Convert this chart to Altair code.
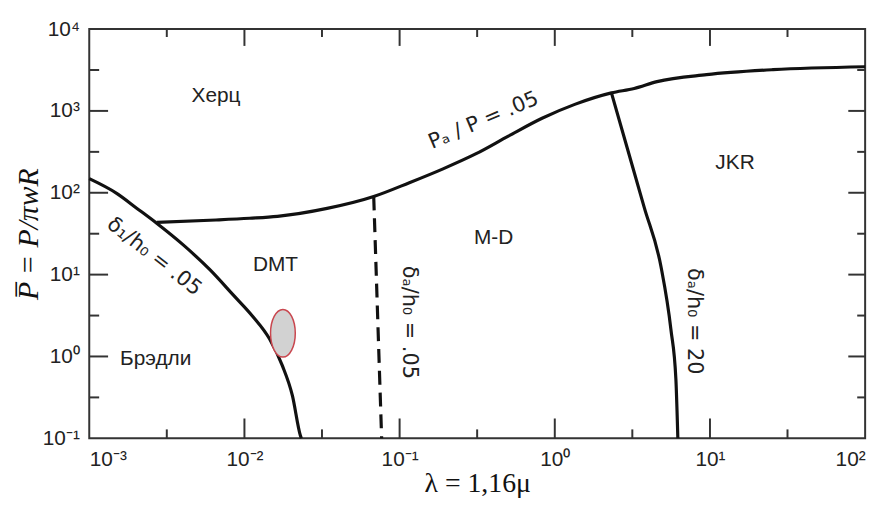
import altair as alt
import pandas as pd

W, H = 783, 413
X_DOMAIN = [1e-3, 1e2]
Y_DOMAIN = [1e-1, 1e4]

# ---- axis ticks / labels ----
x_major = [1e-2, 1e-1, 1e0, 1e1]
x_minor = [3.16e-3, 3.16e-2, 3.16e-1, 3.16, 31.6]
y_major = [1, 10, 100, 1000]
y_minor = [0.316, 3.16, 31.6, 316, 3160]
x_tick_values = [1e-3, 1e-2, 1e-1, 1e0, 1e1, 1e2]
x_tick_labels = ["10⁻³", "10⁻²", "10⁻¹", "10⁰", "10¹", "10²"]
y_tick_values = [1e-1, 1e0, 1e1, 1e2, 1e3, 1e4]
y_tick_labels = ["10⁻¹", "10⁰", "10¹", "10²", "10³", "10⁴"]

# ---- curves ----
c1_x = [0.001, 0.00151, 0.00203, 0.00272, 0.00405, 0.00601, 0.00843, 0.01132, 0.01453, 0.01758, 0.02038, 0.02291, 0.02327]
c1_y = [148.6, 97.7, 64.4, 42.4, 22.9, 11.4, 5.69, 3.08, 1.63, 0.766, 0.332, 0.109, 0.1]

c2_x = [0.00272, 0.00656, 0.0108, 0.01633, 0.0341, 0.0681, 0.1156, 0.1905, 0.309, 0.502, 0.828, 1.345, 2.318, 3.25, 4.56, 9.51, 25.5, 100]
c2_y = [43.5, 46.5, 48.8, 51.5, 64.4, 90, 132.7, 196, 298, 492, 813, 1202, 1660, 1879, 2281, 2773, 3191, 3467]

c3_x = [0.0681, 0.0766]
c3_y = [90, 0.1]

c4_x = [2.318, 2.93, 3.77, 4.84, 5.60, 6.03, 6.21]
c4_y = [1660, 352, 66.2, 12.4, 2.15, 0.532, 0.1]

# ---- region labels ----
reg_text = ["Херц", "JKR", "M-D", "DMT", "Брэдли"]
reg_x = [0.00656, 14.5, 0.403, 0.01585, 0.00268]
reg_y = [1503, 232, 27.9, 13.2, 0.931]

# ---- curve labels ----
cl_text = ["δ₁/h₀ = .05", "Pₐ / P = .05", "δₐ/h₀ = .05", "δₐ/h₀ = 20"]
cl_x = [0.00262, 0.348, 0.1156, 7.85]
cl_y = [16.5, 760, 2.61, 2.69]
cl_angle = [38, 337, 90, 90]

# ---- marked region (ellipse) ----
ell_x = [0.0177]
ell_y = [1.92]

xs = alt.Scale(type="log", domain=X_DOMAIN, nice=False)
ys = alt.Scale(type="log", domain=Y_DOMAIN, nice=False)

def arr_expr(labels):
    return "[" + ",".join("'" + s + "'" for s in labels) + "]"

x_label_expr = arr_expr(x_tick_labels) + "[round(log(datum.value)/LN10)+3]"
y_label_expr = arr_expr(y_tick_labels) + "[round(log(datum.value)/LN10)+1]"

x_axis = alt.Axis(values=x_tick_values, labelExpr=x_label_expr, ticks=False, tickSize=0,
                  domain=False, grid=False, labelFont="Liberation Sans", labelFontSize=21,
                  labelColor="#222", labelPadding=10,
                  title="λ = 1,16μ", titleFont="Liberation Serif", titleFontSize=28,
                  titleFontWeight="normal", titleColor="#111", titleX=W / 2, titleY=54,
                  titleBaseline="alphabetic", titleAlign="center")
y_axis = alt.Axis(values=y_tick_values, labelExpr=y_label_expr, ticks=False, tickSize=0,
                  domain=False, grid=False, labelFont="Liberation Sans", labelFontSize=21,
                  labelColor="#222", labelPadding=10,
                  title="P̅ = P/πwR", titleFont="Liberation Serif", titleFontSize=30,
                  titleFontStyle="italic", titleFontWeight="normal", titleColor="#111",
                  titleX=-61, titleY=H / 2, titleAngle=270, titleBaseline="middle",
                  titleAlign="center")

def curve_df(xv, yv):
    return pd.DataFrame({"x": xv, "y": yv, "o": list(range(len(xv)))})

def line_layer(xv, yv, dash=None, interp="monotone", color="#111", width=3.2):
    kw = dict(color=color, strokeWidth=width, interpolate=interp, strokeCap="butt")
    if dash:
        kw["strokeDash"] = dash
    return alt.Chart(curve_df(xv, yv)).mark_line(**kw).encode(
        x=alt.X("x:Q", scale=xs, axis=x_axis),
        y=alt.Y("y:Q", scale=ys, axis=y_axis),
        order="o:Q",
    )

layers = [
    line_layer(c1_x, c1_y),
    line_layer(c2_x, c2_y),
    line_layer(c3_x, c3_y, dash=[14, 8], interp="linear"),
    line_layer(c4_x, c4_y),
]

# inward tick marks: one short two-point segment per tick; the tick length
# in px is converted through the log scales (decades per pixel)
DEC_X = 5.0 / W
DEC_Y = 5.0 / H

def tick_layers(vals, length, side):
    out = []
    for v in vals:
        if side == "bottom":
            xv, yv = [v, v], [Y_DOMAIN[0], Y_DOMAIN[0] * 10 ** (length * DEC_Y)]
        elif side == "top":
            xv, yv = [v, v], [Y_DOMAIN[1] / 10 ** (length * DEC_Y), Y_DOMAIN[1]]
        elif side == "left":
            xv, yv = [X_DOMAIN[0], X_DOMAIN[0] * 10 ** (length * DEC_X)], [v, v]
        else:
            xv, yv = [X_DOMAIN[1] / 10 ** (length * DEC_X), X_DOMAIN[1]], [v, v]
        out.append(line_layer(xv, yv, interp="linear", color="#333", width=2))
    return out

layers += tick_layers(x_major, 20, "bottom")
layers += tick_layers(x_minor, 9, "bottom")
layers += tick_layers(x_major, 17, "top")
layers += tick_layers(x_minor, 8, "top")
layers += tick_layers(y_major, 19, "left")
layers += tick_layers(y_minor, 10, "left")
layers += tick_layers(y_major, 17, "right")
layers += tick_layers(y_minor, 8, "right")

ell_path = ("M0,-1 C0.287,-1 0.52,-0.552 0.52,0 C0.52,0.552 0.287,1 0,1 "
            "C-0.287,1 -0.52,0.552 -0.52,0 C-0.52,-0.552 -0.287,-1 0,-1 Z")
layers.append(
    alt.Chart(pd.DataFrame({"x": ell_x, "y": ell_y})).mark_point(
        shape=ell_path, filled=True, fill="#d2d2d2", stroke="#c9474f",
        strokeWidth=1.5, size=2304, opacity=1).encode(
        x=alt.X("x:Q", scale=xs, axis=x_axis), y=alt.Y("y:Q", scale=ys, axis=y_axis))
)

layers.append(
    alt.Chart(pd.DataFrame({"x": reg_x, "y": reg_y, "t": reg_text})).mark_text(
        font="Liberation Sans", fontSize=21, color="#222").encode(
        x=alt.X("x:Q", scale=xs, axis=x_axis), y=alt.Y("y:Q", scale=ys, axis=y_axis),
        text="t:N")
)

layers.append(
    alt.Chart(pd.DataFrame({"x": cl_x, "y": cl_y, "t": cl_text, "a": cl_angle})).mark_text(
        font="DejaVu Sans", fontSize=21, color="#222").encode(
        x=alt.X("x:Q", scale=xs, axis=x_axis), y=alt.Y("y:Q", scale=ys, axis=y_axis),
        text="t:N", angle=alt.Angle("a:Q", scale=None))
)

chart = alt.layer(*layers).properties(
    width=W, height=H,
    padding={"left": 82, "top": 19, "right": 15, "bottom": 60},
    autosize=alt.AutoSizeParams(type="none"),
    background="white",
).configure_view(stroke="#333", strokeWidth=2)

chart.save("out.html", embed_options={"renderer": "svg", "actions": False})
